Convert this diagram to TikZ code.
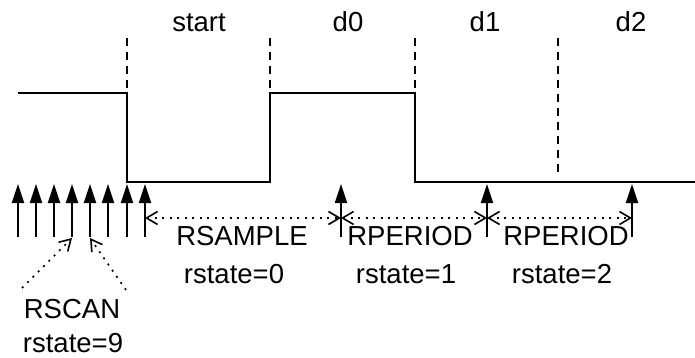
\documentclass[tikz,border=0pt]{standalone}
\usepackage{fontspec}
\setmainfont{Liberation Sans}
\usetikzlibrary{arrows.meta}
\tikzset{openbarb/.tip={Straight Barb[length=11pt,width=13pt,line width=1.6pt]}}
\begin{document}
\begin{tikzpicture}[x=1pt,y=-1pt,
  signal/.style={line width=2pt,line join=miter},
  boundary/.style={line width=2pt,dash pattern=on 8pt off 6pt},
  tick/.style={line width=2pt,-{Triangle[length=19pt,width=12pt]}},
  span/.style={line width=1.6pt,dash pattern=on 2pt off 5.5pt,{openbarb}-{openbarb}},
  pointer/.style={line width=1.6pt,dash pattern=on 2pt off 5.5pt,-{openbarb}},
  lbl/.style={font=\fontsize{27.5}{32}\selectfont,inner sep=0pt,anchor=base}]
\useasboundingbox (0,0) rectangle (695,358);

% waveform
\draw[signal] (18,93) -- (127,93) -- (127,182) -- (270,182) -- (270,93)
  -- (415,93) -- (415,182) -- (695,182);

% bit boundaries
\draw[boundary] (127,38) -- (127,93);
\draw[boundary] (270,38) -- (270,93);
\draw[boundary] (415,38) -- (415,93);
\draw[boundary] (558,38) -- (558,175);

% bit names
\node[lbl] (start) at (199,32) {start};
\node[lbl] (d0) at (348,32) {d0};
\node[lbl] (d1) at (485,32) {d1};
\node[lbl] (d2) at (631,32) {d2};

% scan ticks
\foreach \i/\x in {1/18,2/36,3/54,4/72,5/90,6/108,7/127,8/145} {
  \coordinate (s\i b) at (\x,237);
  \coordinate (s\i t) at (\x,184);
  \draw[tick] (s\i b) -- (s\i t);
}
% sample ticks
\foreach \n/\x in {a/341,b/487,c/632} {
  \coordinate (\n b) at (\x,237);
  \coordinate (\n t) at (\x,184);
  \draw[tick] (\n b) -- (\n t);
}

% intervals
\coordinate (p0) at (145,218);
\coordinate (p1) at (341,218);
\coordinate (p2) at (487,218);
\coordinate (p3) at (632,218);
\draw[span] (p0) -- (p1);
\draw[span] (p1) -- (p2);
\draw[span] (p2) -- (p3);

\node[lbl] (rsample) at (242,245) {RSAMPLE};
\node[lbl] (rs0) at (234,283) {rstate=0};
\node[lbl] (rper1) at (410,245) {RPERIOD};
\node[lbl] (rs1) at (406,283) {rstate=1};
\node[lbl] (rper2) at (566,245) {RPERIOD};
\node[lbl] (rs2) at (562,283) {rstate=2};

% scan label
\node[lbl] (rscan) at (72,318) {RSCAN};
\node[lbl] (rs9) at (73,352) {rstate=9};
\coordinate (q1) at (22,288);
\coordinate (q2) at (126,290);
\coordinate (h1) at (72,238);
\coordinate (h2) at (90,238);
\draw[pointer] (q1) -- (h1);
\draw[pointer] (q2) -- (h2);
\end{tikzpicture}
\end{document}
